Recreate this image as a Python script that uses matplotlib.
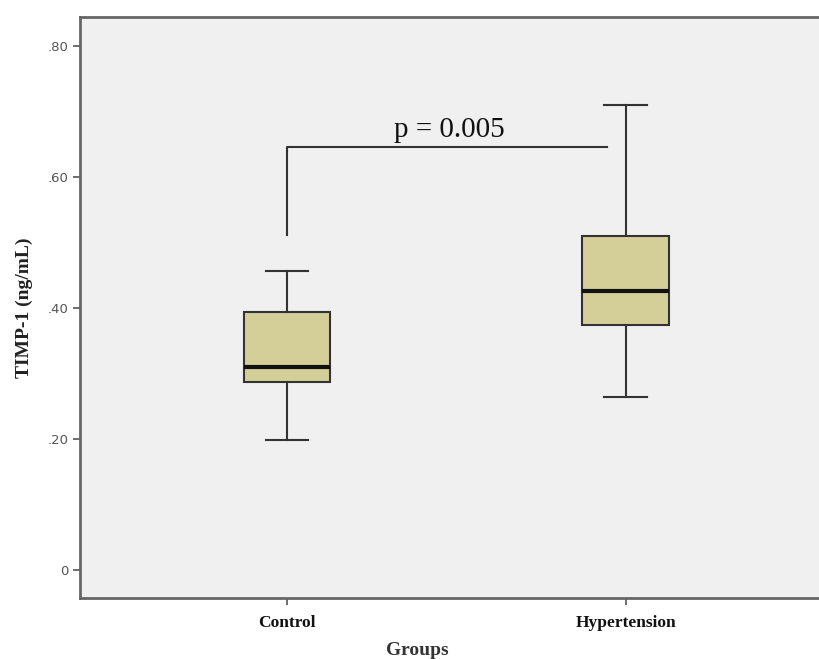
import matplotlib.pyplot as plt

# valores (TIMP-1, ng/mL)
grupos = ["Control", "Hypertension"]
whisker_low = [0.199, 0.265]
q1 = [0.288, 0.375]
medianas = [0.310, 0.426]
q3 = [0.395, 0.510]
whisker_high = [0.457, 0.711]

yticks = [0, 0.2, 0.4, 0.6, 0.8]
ytick_labels = ["0", ".20", ".40", ".60", ".80"]

bracket_low = 0.512
bracket_y = 0.647
texto_p = "p = 0.005"

stats = []
for i, g in enumerate(grupos):
    stats.append({
        "label": g,
        "whislo": whisker_low[i],
        "q1": q1[i],
        "med": medianas[i],
        "q3": q3[i],
        "whishi": whisker_high[i],
        "fliers": [],
    })

fig = plt.figure(figsize=(8.19, 6.59), dpi=100)
ax = fig.add_axes([0.0977, 0.0926, 0.91, 0.8816])
ax.set_facecolor("#f0f0f0")

posicoes = [1, 2]
ax.bxp(stats, positions=posicoes, widths=0.255, patch_artist=True,
       showfliers=False,
       boxprops=dict(facecolor="#d4cf98", edgecolor="#333333", linewidth=1.5),
       medianprops=dict(color="#111111", linewidth=3),
       whiskerprops=dict(color="#333333", linewidth=1.5),
       capprops=dict(color="#333333", linewidth=1.5),
       capwidths=0.125)

# colchete de significancia
ax.plot([posicoes[0], posicoes[0], 1.945], [bracket_low, bracket_y, bracket_y],
        color="#333333", linewidth=1.5)
ax.text(1.48, 0.662, texto_p, ha="center", va="baseline",
        fontsize=21, family="Liberation Serif", color="#111111")

ax.set_xlim(0.388, 2.59)
ax.set_ylim(-0.042, 0.845)
ax.set_yticks(yticks)
ax.set_yticklabels(ytick_labels, fontsize=9.5, color="#555555")
ax.set_xticks(posicoes)
ax.set_xticklabels(grupos, fontsize=12.5, family="Liberation Serif",
                   fontweight="bold", color="#111111")
ax.tick_params(axis="both", direction="out", length=5, width=1.2, color="#555555")
ax.tick_params(axis="x", pad=7)

ax.set_xlabel("Groups", fontsize=14, family="Liberation Serif",
              fontweight="bold", color="#333333")
ax.xaxis.set_label_coords(0.453, -0.075)
ax.set_ylabel("TIMP-1 (ng/mL)", fontsize=14, family="Liberation Serif",
              fontweight="bold", color="#222222")
ax.yaxis.set_label_coords(-0.063, 0.5)

for s in ["left", "bottom", "top"]:
    ax.spines[s].set_color("#666666")
    ax.spines[s].set_linewidth(2)
ax.spines["right"].set_visible(False)

plt.savefig("out.png", dpi=100)
plt.close()
